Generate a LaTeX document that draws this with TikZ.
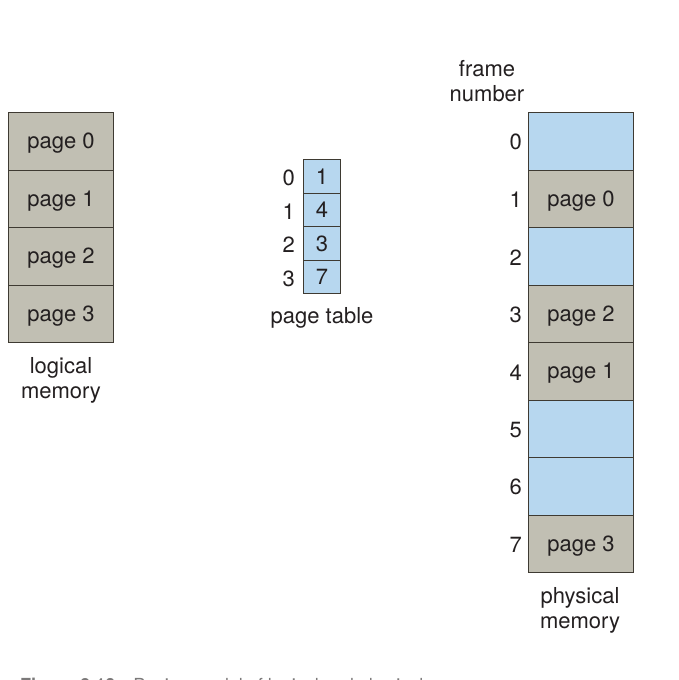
\documentclass[tikz,border=0pt]{standalone}
\usepackage{fontspec}
\setmainfont{TeX Gyre Heros}
\definecolor{pgray}{RGB}{193,191,179}
\definecolor{pblue}{RGB}{183,215,239}
\definecolor{pline}{RGB}{62,58,50}
\definecolor{ptext}{RGB}{35,31,32}
\begin{document}
\begin{tikzpicture}[x=1pt,y=-1pt,
  every node/.style={text=ptext,font=\fontsize{22}{26}\selectfont},
  cell/.style={draw=pline,line width=1.1pt,minimum width=105pt,minimum height=57.5pt,inner sep=0pt,anchor=north west,text depth=1pt},
  gcell/.style={cell,fill=pgray},
  bcell/.style={cell,fill=pblue},
  tcell/.style={draw=pline,line width=1.1pt,fill=pblue,minimum width=37pt,minimum height=33.5pt,inner sep=0pt,anchor=north west,text height=17pt,text depth=1pt},
  lbl/.style={inner sep=0pt,align=center}]
\useasboundingbox (0,0) rectangle (679,680);
\clip (0,0) rectangle (679,680);
% logical memory
\node[gcell] (l0) at (8,112) {page 0};
\node[gcell] (l1) at (8,169.5) {page 1};
\node[gcell] (l2) at (8,227) {page 2};
\node[gcell] (l3) at (8,284.5) {page 3};
\node[lbl] (llab) at (61,380) {logical\\[-1pt]memory};
% page table
\node[tcell] (t0) at (303,159) {1};
\node[tcell] (t1) at (303,192.5) {4};
\node[tcell] (t2) at (303,226) {3};
\node[tcell] (t3) at (303,259.5) {7};
\node[lbl,anchor=east] (i0) at (295,178) {0};
\node[lbl,anchor=east] (i1) at (295,211.5) {1};
\node[lbl,anchor=east] (i2) at (295,245) {2};
\node[lbl,anchor=east] (i3) at (295,278.5) {3};
\node[lbl] (tlab) at (322,318) {page table};
% physical memory
\node[bcell] (f0) at (528,112) {};
\node[gcell] (f1) at (528,169.5) {page 0};
\node[bcell] (f2) at (528,227) {};
\node[gcell] (f3) at (528,284.5) {page 2};
\node[gcell] (f4) at (528,342) {page 1};
\node[bcell] (f5) at (528,399.5) {};
\node[bcell] (f6) at (528,457) {};
\node[gcell] (f7) at (528,514.5) {page 3};
\foreach \i in {0,...,7}{
  \node[lbl,anchor=east] (n\i) at ([xshift=-6pt,yshift=-1pt]f\i.west) {\i};
}
\node[lbl] (flab) at (487,81) {frame\\[-1pt]number};
\node[lbl] (plab) at (580,610) {physical\\[-1pt]memory};
% caption (cut off at the bottom edge, as in the reference)
\node[anchor=base west,inner sep=0pt,text=ptext!60,font=\fontsize{18}{20}\selectfont] (cap) at (20,691) {\textbf{Figure 9.10}\quad Paging model of logical and physical memory.};
\end{tikzpicture}
\end{document}
